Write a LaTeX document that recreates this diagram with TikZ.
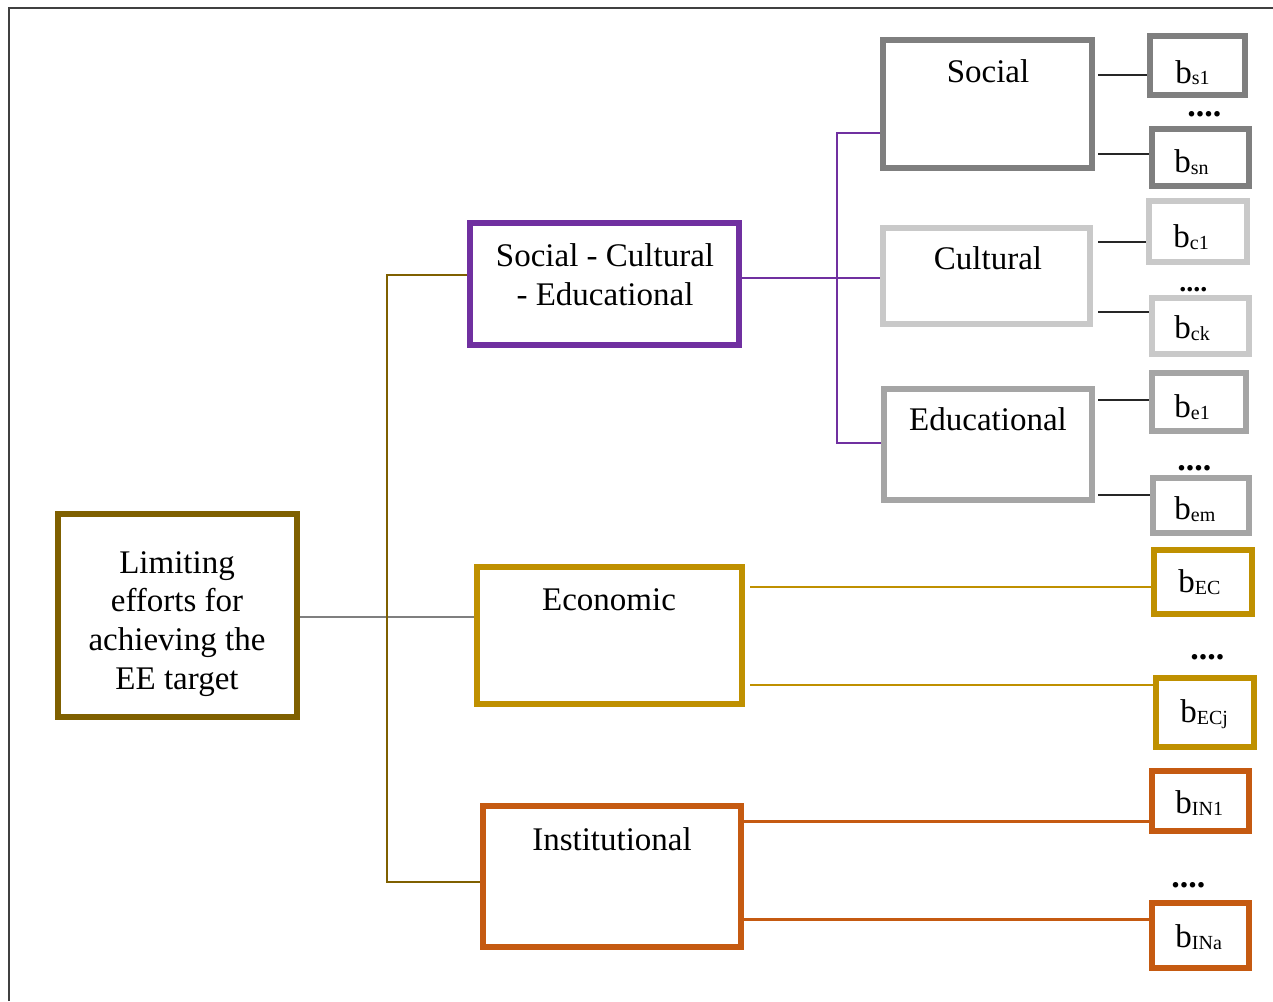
\documentclass[tikz,border=0pt]{standalone}
\usepackage{fontspec}
\setmainfont{Liberation Serif}
\usetikzlibrary{fit}
\definecolor{cMain}{HTML}{7F6000}
\definecolor{cPurple}{HTML}{7030A0}
\definecolor{cGold}{HTML}{BF9000}
\definecolor{cOrange}{HTML}{C55A11}
\definecolor{cSocial}{HTML}{7F7F7F}
\definecolor{cCult}{HTML}{C9C9C9}
\definecolor{cEduc}{HTML}{A5A5A5}
\definecolor{cFrame}{HTML}{404040}
\newcommand\bsb[1]{b\raisebox{-1pt}{\fontsize{10}{12}\selectfont #1}}
\begin{document}
\begin{tikzpicture}[x=0.5pt,y=-0.5pt,
  font=\fontsize{16.5}{19.3}\selectfont,
  box/.style={draw, line width=3pt, inner sep=0pt, fill=white},
  sbox/.style={draw, line width=2.6pt, inner sep=0pt, fill=white},
  lbl/.style={anchor=base, inner sep=0pt, align=center},
  blbl/.style={anchor=base west, inner sep=0pt},
  dots/.style={anchor=base west, inner sep=0pt, font=\fontsize{17}{19}\selectfont\bfseries},
  thin/.style={line width=0.8pt},
  blk/.style={line width=0.8pt, draw=black!85},
]
\useasboundingbox (0,0) rectangle (1273,1001);
\draw[cFrame, line width=1.1pt] (9,1001) -- (9,8) -- (1273,8);

% main boxes
\node[box, draw=cMain, fit={(58,514) (297,717)}] (main) {};
\node[box, draw=cPurple, fit={(470,223) (739,345)}] (sce) {};
\node[box, draw=cGold, fit={(477,567) (742,704)}] (econ) {};
\node[box, draw=cOrange, fit={(483,806) (741,947)}] (inst) {};
\node[box, draw=cSocial, fit={(883,40) (1092,168)}] (soc) {};
\node[box, draw=cCult, fit={(883,228) (1090,324)}] (cult) {};
\node[box, draw=cEduc, fit={(884,389) (1092,500)}] (educ) {};

% texts (anchor base = baseline of last line)
\node[lbl] (tmain) at (177,689) {Limiting\\efforts for\\achieving the\\EE target};
\node[lbl] (tsce) at (605,305) {Social - Cultural\\- Educational};
\node[lbl] (tecon) at (609,610) {Economic};
\node[lbl] (tinst) at (612,850) {Institutional};
\node[lbl] (tsoc) at (988,82) {Social};
\node[lbl] (tcult) at (988,269) {Cultural};
\node[lbl] (teduc) at (988,430) {Educational};

% small boxes
\node[sbox, draw=cSocial, fit={(1150,36) (1245,95)}] (bs1) {};
\node[sbox, draw=cSocial, fit={(1152,129) (1249,186)}] (bsn) {};
\node[sbox, draw=cCult, fit={(1149,201) (1247,262)}] (bc1) {};
\node[sbox, draw=cCult, fit={(1152,298) (1249,354)}] (bck) {};
\node[sbox, draw=cEduc, fit={(1152,373) (1246,431)}] (be1) {};
\node[sbox, draw=cEduc, fit={(1153,478) (1249,533)}] (bem) {};
\node[sbox, draw=cGold, fit={(1154,550) (1252,614)}] (bEC) {};
\node[sbox, draw=cGold, fit={(1156,678) (1254,747)}] (bECj) {};
\node[sbox, draw=cOrange, fit={(1152,771) (1249,831)}] (bIN1) {};
\node[sbox, draw=cOrange, fit={(1152,903) (1249,968)}] (bINa) {};

\node[blbl] (ts1) at (1175,83) {\bsb{s1}};
\node[blbl] (tsn) at (1174,172) {\bsb{sn}};
\node[blbl] (tc1) at (1173,247) {\bsb{c1}};
\node[blbl] (tck) at (1174,338) {\bsb{ck}};
\node[blbl] (te1) at (1174,417) {\bsb{e1}};
\node[blbl] (tem) at (1174,519) {\bsb{em}};
\node[blbl] (tEC) at (1178,592) {\bsb{EC}};
\node[blbl] (tECj) at (1180,722) {\bsb{ECj}};
\node[blbl] (tIN1) at (1175,813) {\bsb{IN1}};
\node[blbl] (tINa) at (1175,947) {\bsb{INa}};

% dots
\node[dots] (d1) at (1187,116) {....};
\node[dots, font=\fontsize{14}{15}\selectfont\bfseries] (d2) at (1179,291) {....};
\node[dots] (d3) at (1177,470) {....};
\node[dots] (d4) at (1190,659) {....};
\node[dots] (d5) at (1171,887) {....};

% main connectors
\draw[thin, draw=cSocial] (main.east |- 0,617) -- (econ.west |- 0,617);
\coordinate (jt) at (387,275);
\coordinate (jb) at (387,882);
\draw[thin, draw=cMain] (sce.west |- jt) -- (jt) -- (jb) -- (inst.west |- jb);

% purple tree
\coordinate (pt) at (837,133);
\coordinate (pb) at (837,443);
\draw[thin, draw=cPurple] (sce.east |- 0,278) -- (cult.west |- 0,278);
\draw[thin, draw=cPurple] (soc.west |- pt) -- (pt) -- (pb) -- (educ.west |- pb);

% black connectors
\draw[blk] (1098,75) -- (bs1.west |- 0,75);
\draw[blk] (1098,154) -- (bsn.west |- 0,154);
\draw[blk] (1098,242) -- (bc1.west |- 0,242);
\draw[blk] (1098,312) -- (bck.west |- 0,312);
\draw[blk] (1098,400) -- (be1.west |- 0,400);
\draw[blk] (1098,495) -- (bem.west |- 0,495);

% economic
\draw[line width=0.7pt, draw=cGold] (750,587) -- (bEC.west |- 0,587);
\draw[line width=0.7pt, draw=cGold] (750,685) -- (bECj.west |- 0,685);

% institutional
\draw[line width=1.5pt, draw=cOrange] (inst.east |- 0,821) -- (bIN1.west |- 0,821);
\draw[line width=1.5pt, draw=cOrange] (inst.east |- 0,919) -- (bINa.west |- 0,919);
\end{tikzpicture}
\end{document}
